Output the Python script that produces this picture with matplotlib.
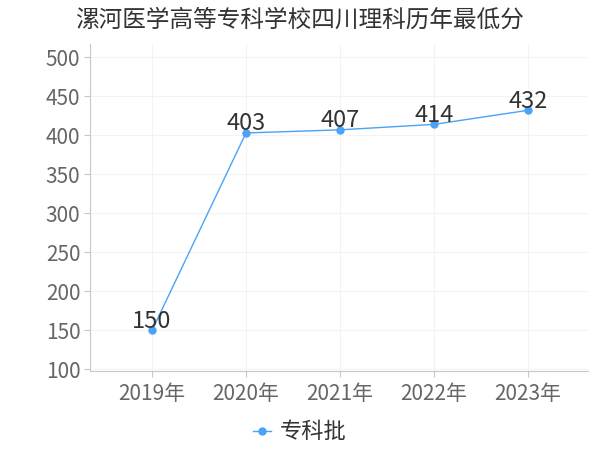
"""
漯河医学高等专科学校四川理科历年最低分 折线图
"""

import matplotlib
matplotlib.use("Agg")
import matplotlib.pyplot as plt

# ─── 数据 ───────────────────────────────────────────────────────────────────
years  = ["2019年", "2020年", "2021年", "2022年", "2023年"]
scores = [150, 403, 407, 414, 432]
series_name = "专科批"
title = "漯河医学高等专科学校四川理科历年最低分"
# ────────────────────────────────────────────────────────────────────────────

plt.rcParams["font.family"] = ["Noto Sans CJK SC", "DejaVu Sans"]
plt.rcParams["axes.unicode_minus"] = False

LINE_COLOR = "#4aa3f7"
TEXT_COLOR = "#666666"
AXIS_COLOR = "#c8c8c8"

fig = plt.figure(figsize=(6, 4.5), dpi=100)
ax = fig.add_axes([90 / 600, 1 - 371 / 450, 498 / 600, 327 / 450])

x = list(range(len(years)))
ax.plot(x, scores, color=LINE_COLOR, lw=1, marker="o", markersize=5,
        label=series_name)

for xi, v in zip(x, scores):
    ax.annotate(str(v), xy=(xi, v), xytext=(0, 2), textcoords="offset points",
                ha="center", va="baseline", fontsize=17, color="#333333")

ax.set_xlim(-0.66, 4.64)
ax.set_ylim(98, 517)
ax.set_yticks(range(100, 501, 50))
ax.set_xticks(x)
ax.set_xticklabels(years)

ax.tick_params(axis="both", labelsize=15, colors=AXIS_COLOR, labelcolor=TEXT_COLOR,
               length=4, width=0.8)
ax.tick_params(axis="x", pad=5)
ax.tick_params(axis="y", pad=3)
for side in ("top", "right"):
    ax.spines[side].set_visible(False)
for side in ("left", "bottom"):
    ax.spines[side].set_color(AXIS_COLOR)

ax.grid(color="#f3f3f3", lw=0.8)
ax.set_axisbelow(True)

fig.text(0.5, 1 - 20 / 450, title, ha="center", va="center",
         fontsize=17, color="#333333")

fig.legend(loc="center", bbox_to_anchor=(0.5, 1 - 432 / 450), frameon=False,
           fontsize=16, handlelength=0.8, handletextpad=0.4,
           labelcolor="#333333")

fig.savefig("out.png", dpi=100)
